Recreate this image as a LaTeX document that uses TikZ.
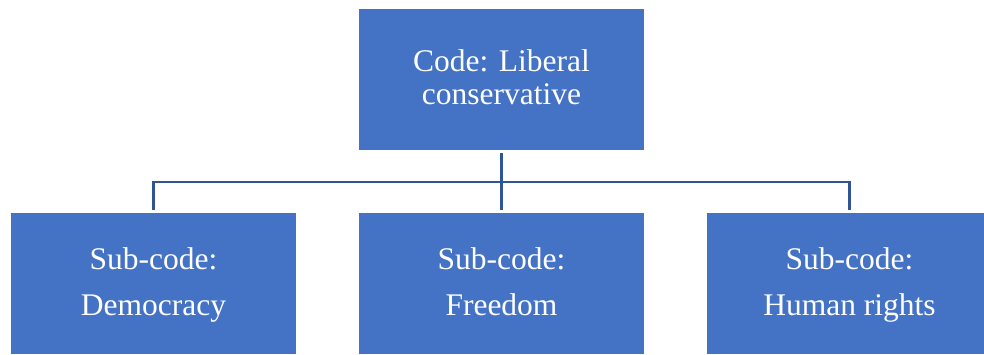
\documentclass[tikz,border=0pt]{standalone}
\usepackage{fontspec}
\setmainfont{Liberation Serif}
\definecolor{boxblue}{HTML}{4472C4}
\definecolor{lineblue}{HTML}{2F5597}
\newcommand{\tophi}{\rule{0pt}{23pt}}
\newcommand{\toplo}{\rule[-6pt]{0pt}{6pt}}
\begin{document}
\begin{tikzpicture}[x=1pt,y=-1pt,
  box/.style={fill=boxblue, draw=none, text=white, minimum width=285pt, align=center, inner sep=0pt},
  topbox/.style={box, minimum height=141pt, font=\fontsize{31.5}{33}\selectfont},
  subbox/.style={box, minimum height=141pt, font=\fontsize{31.5}{46}\selectfont},
  conn/.style={draw=lineblue, line width=2.6pt, shorten <=3pt, shorten >=3pt}]
\useasboundingbox (0,0) rectangle (984,354);
\node[topbox] (top) at (501.5,79.5) {\tophi Code: Liberal\\conservative\toplo};
\node[subbox] (left) at (153.5,283.5) {\strut Sub-code:\\Democracy\strut};
\node[subbox] (mid) at (501.5,283.5) {\strut Sub-code:\\Freedom\strut};
\node[subbox] (right) at (849.5,283.5) {\strut Sub-code:\\Human rights\strut};
\coordinate (bus) at (501.5,182);
\draw[conn] (left.north) |- (bus) -| (right.north);
\draw[conn] (top.south) -- (mid.north);
\end{tikzpicture}
\end{document}
